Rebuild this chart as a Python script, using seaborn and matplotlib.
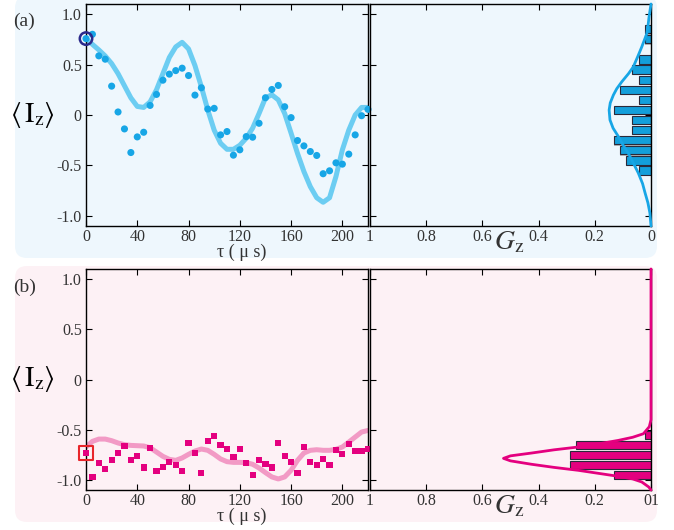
import numpy as np
import pandas as pd
import matplotlib
matplotlib.use("Agg")
import matplotlib.pyplot as plt
import seaborn as sns
from matplotlib.patches import FancyBboxPatch

# ---------------- data ----------------
tau = [0, 5, 10, 15, 20, 25, 30, 35, 40, 45, 50, 55, 60, 65, 70, 75, 80, 85, 90, 95,
       100, 105, 110, 115, 120, 125, 130, 135, 140, 145, 150, 155, 160, 165, 170, 175,
       180, 185, 190, 195, 200, 205, 210, 215, 220]

iz_a_meas = [0.757, 0.80, 0.586, 0.553, 0.286, 0.03, -0.138, -0.372, -0.217, -0.171,
             0.095, 0.204, 0.345, 0.405, 0.44, 0.464, 0.391, 0.197, 0.27, 0.059,
             0.066, -0.197, -0.164, -0.398, -0.345, -0.214, -0.22, -0.082, 0.171, 0.253,
             0.293, 0.082, -0.026, -0.253, -0.306, -0.362, -0.401, -0.582, -0.553, -0.474,
             -0.487, -0.388, -0.197, -0.007, 0.056]

iz_a_theory = [0.757, 0.70, 0.645, 0.585, 0.51, 0.41, 0.29, 0.17, 0.085, 0.075,
               0.13, 0.25, 0.41, 0.57, 0.675, 0.72, 0.655, 0.49, 0.28, 0.05,
               -0.15, -0.28, -0.34, -0.34, -0.30, -0.23, -0.13, 0.015, 0.17, 0.20,
               0.15, 0.015, -0.18, -0.38, -0.56, -0.71, -0.82, -0.865, -0.82, -0.61,
               -0.345, -0.15, 0.0, 0.075, 0.075]

iz_b_meas = [-0.732, -0.970, -0.831, -0.891, -0.798, -0.735, -0.659, -0.798, -0.758, -0.877,
             -0.679, -0.907, -0.868, -0.825, -0.848, -0.911, -0.636, -0.728, -0.927, -0.613,
             -0.563, -0.649, -0.689, -0.772, -0.689, -0.828, -0.950, -0.805, -0.841, -0.877,
             -0.629, -0.762, -0.818, -0.927, -0.675, -0.818, -0.854, -0.795, -0.854, -0.702,
             -0.745, -0.646, -0.715, -0.715, -0.689]

iz_b_theory = [-0.672, -0.616, -0.593, -0.593, -0.609, -0.632, -0.649, -0.656, -0.659, -0.662,
               -0.679, -0.722, -0.765, -0.795, -0.805, -0.781, -0.745, -0.712, -0.692, -0.705,
               -0.745, -0.791, -0.818, -0.825, -0.825, -0.828, -0.844, -0.881, -0.927, -0.970,
               -0.990, -0.970, -0.904, -0.805, -0.732, -0.705, -0.699, -0.705, -0.705, -0.695,
               -0.672, -0.623, -0.573, -0.523, -0.507]

# histograms (bin centres and relative frequency G_z)
hist_a_y = [0.85, 0.75, 0.55, 0.45, 0.35, 0.25, 0.15, 0.05, -0.05, -0.15, -0.25, -0.35, -0.45, -0.55]
hist_a_g = [0.022, 0.022, 0.044, 0.067, 0.044, 0.111, 0.044, 0.133, 0.067, 0.067, 0.133, 0.111, 0.089, 0.044]
hist_b_y = [-0.55, -0.65, -0.75, -0.85, -0.95]
hist_b_g = [0.022, 0.267, 0.289, 0.289, 0.133]

# fitted distribution curves (y, G)
fit_a_y = [1.1, 0.97, 0.9, 0.806, 0.674, 0.58, 0.477, 0.41, 0.329, 0.26, 0.197, 0.12, 0.049,
           -0.049, -0.13, -0.214, -0.3, -0.378, -0.47, -0.576, -0.68, -0.773, -0.87, -0.97, -1.1]
fit_a_g = [0.0, 0.007, 0.010, 0.015, 0.033, 0.047, 0.063, 0.080, 0.104, 0.122, 0.134, 0.145, 0.149,
           0.146, 0.135, 0.116, 0.099, 0.081, 0.064, 0.045, 0.030, 0.021, 0.011, 0.004, 0.0]
fit_b_y = [1.1, -0.40, -0.47, -0.54, -0.575, -0.606, -0.64, -0.672, -0.70, -0.732, -0.76, -0.785,
           -0.81, -0.844, -0.875, -0.904, -0.935, -0.964, -0.99, -1.02, -1.07, -1.1]
fit_b_g = [0.0, 0.0, 0.006, 0.027, 0.065, 0.116, 0.185, 0.259, 0.345, 0.425, 0.50, 0.525,
           0.50, 0.425, 0.345, 0.259, 0.185, 0.116, 0.065, 0.033, 0.008, 0.0]

yticks = [-1.0, -0.5, 0.0, 0.5, 1.0]
ytick_labels = ["-1.0", "-0.5", "0", "0.5", "1.0"]
xticks_tau = [0, 40, 80, 120, 160, 200]
xticks_g = [1.0, 0.8, 0.6, 0.4, 0.2, 0.0]
xtick_g_labels_a = ["1", "0.8", "0.6", "0.4", "0.2", "0"]
xtick_g_labels_b = ["1", "0.8", "0.6", "0.4", "0.2", "01"]

# ---------------- style ----------------
sns.set_style("ticks")
plt.rcParams["font.family"] = ["Liberation Serif", "DejaVu Serif"]
plt.rcParams["mathtext.fontset"] = "stix"

BLUE_BG = "#eef7fd"
PINK_BG = "#fdf1f5"
BLUE_DOT = "#17a6e6"
BLUE_LINE = "#6ccdf2"
BLUE_BAR = "#139fdb"
PINK_DOT = "#e4007f"
PINK_LINE = "#f29ac5"
PINK_BAR = "#e4007f"
TXT = "#333333"

W, H = 674, 530
fig = plt.figure(figsize=(W / 100, H / 100), dpi=100)
fig.patch.set_facecolor("white")

def px_box(x0, y0, x1, y1):
    return [x0 / W, 1 - y1 / H, (x1 - x0) / W, (y1 - y0) / H]

# rounded background panels (inches)
for (top, bot, col) in [(-4, 258, BLUE_BG), (266, 522, PINK_BG)]:
    p = FancyBboxPatch((15 / 100, (H - bot) / 100), (657 - 15) / 100, (bot - top) / 100,
                       boxstyle="round,pad=0,rounding_size=0.12",
                       transform=fig.dpi_scale_trans, fc=col, ec="none", zorder=-5)
    fig.add_artist(p)

ax_a = fig.add_axes(px_box(86, 4, 368, 226))
ax_ah = fig.add_axes(px_box(370, 4, 651, 226))
ax_b = fig.add_axes(px_box(86, 269, 368, 490))
ax_bh = fig.add_axes(px_box(370, 269, 651, 490))

def style_axes(ax):
    ax.set_facecolor("none")
    for s in ax.spines.values():
        s.set_visible(True)
        s.set_color("black")
        s.set_linewidth(1.0)
    ax.tick_params(direction="in", length=4, width=0.8, top=True, right=True,
                   labelsize=11.5, colors="black", labelcolor=TXT)
    ax.tick_params(axis="x", pad=2)
    ax.tick_params(axis="y", pad=3)
    ax.set_ylim(-1.1, 1.1)
    ax.set_yticks(yticks)

# ---------------- time-domain panels ----------------
df_a = pd.DataFrame({"tau": tau, "meas": iz_a_meas, "theory": iz_a_theory})
df_b = pd.DataFrame({"tau": tau, "meas": iz_b_meas, "theory": iz_b_theory})

for ax, df, lc, dc, marker, ms in [(ax_a, df_a, BLUE_LINE, BLUE_DOT, "o", 26),
                                   (ax_b, df_b, PINK_LINE, PINK_DOT, "s", 20)]:
    style_axes(ax)
    sns.lineplot(data=df, x="tau", y="theory", ax=ax, color=lc, lw=3.6,
                 solid_capstyle="round", solid_joinstyle="round", zorder=2, sort=False)
    sns.scatterplot(data=df, x="tau", y="meas", ax=ax, color=dc, marker=marker, s=ms,
                    edgecolor="none", linewidth=0, zorder=3, clip_on=False)
    ax.set_xlim(0, 220)
    ax.set_xticks(xticks_tau)
    ax.set_yticklabels(ytick_labels)
    ax.set_xlabel("τ ( μ s)", fontsize=13, color=TXT)
    ax.xaxis.set_label_coords(0.553, -0.12)
    ax.xaxis.label.set_verticalalignment("center")
    ax.set_ylabel(r"$\langle\,\mathrm{I}_\mathrm{z}\rangle$", fontsize=20, rotation=0, color="black")
    ax.yaxis.set_label_coords(-0.19, 0.5)
    ax.yaxis.label.set_verticalalignment("center")

# highlighted first points
sns.scatterplot(x=tau[:1], y=iz_a_meas[:1], ax=ax_a, marker="o", s=80, facecolor="none",
                edgecolor="#2b2a8c", linewidth=1.8, zorder=4, clip_on=False)
sns.scatterplot(x=tau[:1], y=iz_b_meas[:1], ax=ax_b, marker="s", s=95, facecolor="none",
                edgecolor="#e8262b", linewidth=1.5, zorder=4, clip_on=False)

# ---------------- distribution panels ----------------
for ax, hy, hg, fy, fg, bc, lc, labels in [
        (ax_ah, hist_a_y, hist_a_g, fit_a_y, fit_a_g, BLUE_BAR, BLUE_DOT, xtick_g_labels_a),
        (ax_bh, hist_b_y, hist_b_g, fit_b_y, fit_b_g, PINK_BAR, PINK_DOT, xtick_g_labels_b)]:
    style_axes(ax)
    ax.set_xlim(1, 0)
    # soft shadow then bars
    ax.barh([v - 0.012 for v in hy], hg, height=0.082, left=0, color="#b5b5b5",
            edgecolor="none", zorder=1)
    ax.barh(hy, hg, height=0.082, left=0, color=bc, edgecolor="#2a2a3a", linewidth=0.8, zorder=2)
    dfit = pd.DataFrame({"g": fg, "y": fy})
    sns.lineplot(data=dfit, x="g", y="y", ax=ax, color=lc, lw=2.0, sort=False,
                 estimator=None, orient="y", zorder=3, clip_on=False)
    ax.set_xticks(xticks_g)
    ax.set_xticklabels(labels)
    ax.set_yticklabels([])
    ax.set_ylabel("")
    ax.set_xlabel(r"$G_\mathrm{z}$", fontsize=20, color=TXT)
    ax.xaxis.set_label_coords(0.495, -0.075)
    ax.xaxis.label.set_verticalalignment("center")

fig.text(13 / W, 1 - 21 / H, "(a)", fontsize=14, color=TXT, ha="left", va="center")
fig.text(13 / W, 1 - 287 / H, "(b)", fontsize=14, color=TXT, ha="left", va="center")

fig.savefig("out.png", dpi=100)
